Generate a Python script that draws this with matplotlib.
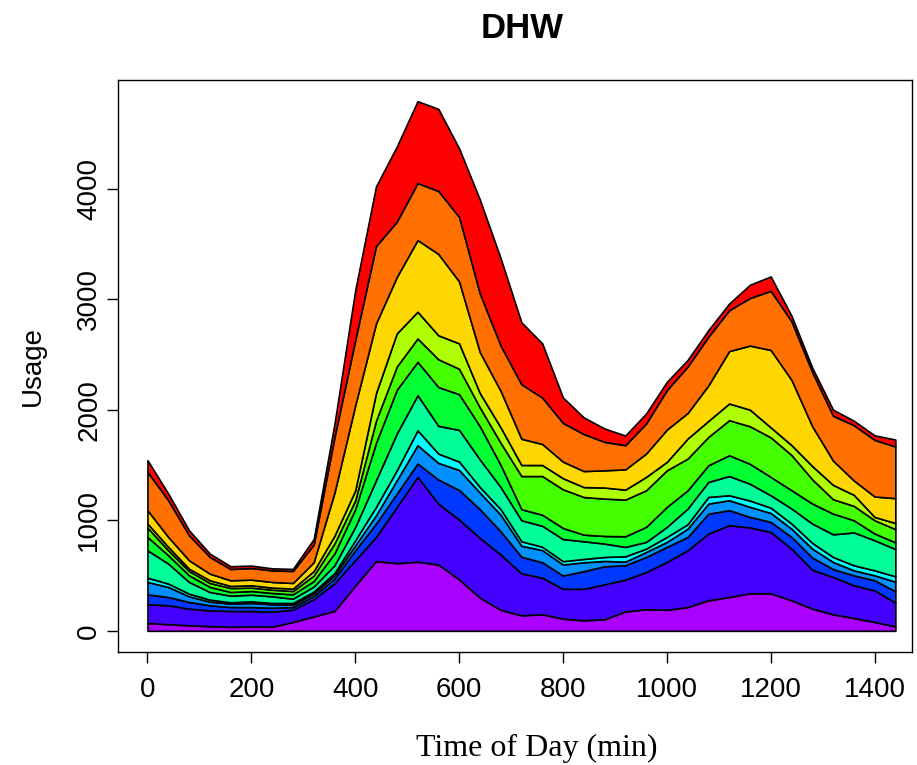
import matplotlib
matplotlib.use("Agg")
import matplotlib.pyplot as plt

# time of day (min)
minutes = [0, 40, 80, 120, 160, 200, 240, 280, 320, 360, 400, 440, 480, 520, 560, 600, 640, 680, 720,
           760, 800, 840, 880, 920, 960, 1000, 1040, 1080, 1120, 1160, 1200, 1240, 1280, 1320, 1360, 1400, 1440]

# usage per layer, bottom to top
purple = [71, 60, 50, 42, 36, 40, 38, 80, 130, 180, 410, 630, 612, 625, 600, 465, 300, 190, 140,
          150, 110, 95, 105, 175, 195, 190, 215, 276, 306, 340, 340, 276, 200, 149, 116, 80, 40]
violet = [169, 171, 150, 143, 143, 139, 135, 111, 156, 250, 230, 219, 509, 767, 550, 541, 540, 500, 380,
          330, 270, 285, 316, 288, 337, 433, 513, 604, 649, 595, 554, 467, 353, 338, 296, 286, 215]
blue = [90, 75, 61, 46, 36, 36, 36, 24, 30, 42, 88, 121, 120, 121, 218, 268, 260, 210, 150,
        140, 120, 160, 163, 130, 136, 136, 121, 180, 136, 95, 91, 106, 109, 72, 90, 91, 103]
azure = [112, 91, 51, 33, 31, 37, 31, 21, 24, 30, 46, 75, 121, 166, 151, 181, 150, 150, 100,
         110, 100, 80, 48, 33, 45, 45, 75, 91, 90, 91, 81, 75, 81, 64, 45, 45, 87]
cyan = [39, 30, 24, 18, 12, 15, 12, 16, 15, 21, 45, 76, 90, 135, 84, 76, 50, 50, 40,
        30, 30, 30, 36, 48, 30, 45, 40, 60, 45, 57, 48, 46, 52, 45, 46, 45, 48]
spring = [247, 181, 106, 69, 60, 60, 60, 39, 45, 70, 121, 241, 332, 317, 251, 286, 250, 200, 190,
          190, 200, 160, 121, 85, 61, 91, 142, 136, 174, 152, 112, 136, 175, 205, 297, 272, 247]
green = [121, 75, 60, 46, 33, 33, 30, 39, 50, 107, 160, 338, 396, 302, 351, 323, 300, 200, 100,
         100, 100, 60, 69, 96, 136, 181, 165, 151, 188, 180, 166, 166, 181, 187, 110, 61, 60]
chartreuse = [84, 45, 39, 36, 36, 31, 30, 30, 50, 90, 80, 200, 210, 211, 251, 230, 170, 200, 300,
              350, 350, 340, 338, 332, 331, 331, 287, 256, 317, 340, 358, 318, 219, 130, 130, 120, 120]
yellowgreen = [37, 31, 21, 24, 19, 21, 19, 22, 40, 70, 90, 250, 300, 242, 217, 230, 130, 140, 100,
               100, 100, 90, 100, 90, 121, 76, 181, 145, 151, 150, 90, 90, 120, 130, 100, 30, 55]
gold = [120, 90, 76, 60, 51, 51, 51, 51, 80, 390, 770, 630, 510, 648, 736, 560, 370, 330, 237,
        190, 150, 145, 156, 183, 211, 292, 231, 321, 474, 580, 700, 590, 360, 220, 130, 185, 225]
orange = [347, 332, 226, 151, 102, 105, 105, 108, 160, 500, 590, 700, 500, 516, 569, 584, 530, 410, 493,
          420, 350, 335, 257, 219, 272, 357, 420, 440, 370, 430, 535, 530, 490, 405, 500, 512, 467]
red = [106, 60, 45, 30, 25, 22, 18, 19, 50, 120, 450, 540, 680, 740, 743, 620, 850, 790, 560,
       490, 230, 150, 121, 87, 90, 75, 60, 60, 60, 120, 130, 50, 40, 55, 40, 41, 63]

layers = [purple, violet, blue, azure, cyan, spring, green, chartreuse, yellowgreen, gold, orange, red]
colors = ['#AA00FF', '#4400FF', '#0038FF', '#0090FF', '#00FFFF', '#00FF99',
          '#00FF33', '#44FF00', '#B0FF00', '#FFD700', '#FF7000', '#FF0000']

plt.rcParams['font.family'] = ['Liberation Sans', 'DejaVu Sans']

fig = plt.figure(figsize=(9.17, 7.65), dpi=100)
ax = fig.add_axes([0.1282, 0.1477, 0.8663, 0.7477])

ax.stackplot(minutes, *layers, colors=colors, edgecolor='black', linewidth=1.2)

ax.set_xlim(-57.6, 1472)
ax.set_ylim(-191.6, 4981.6)
ax.set_xticks([0, 200, 400, 600, 800, 1000, 1200, 1400])
ax.set_yticks([0, 1000, 2000, 3000, 4000])
ax.tick_params(axis='both', direction='out', length=8, width=1, labelsize=20)
ax.tick_params(axis='x', pad=10)
ax.tick_params(axis='y', pad=3)
for lab in ax.get_yticklabels():
    lab.set_rotation(90)
    lab.set_va('center')
for side in ax.spines.values():
    side.set_linewidth(1)

ax.set_title('DHW', fontsize=25, fontweight='bold', pad=30, x=0.509)
ax.set_ylabel('Usage', fontsize=20, labelpad=22)
ax.set_xlabel('Time of Day (min)', fontsize=23, family='Liberation Serif', labelpad=22, x=0.528)

fig.savefig('out.png', dpi=100)
